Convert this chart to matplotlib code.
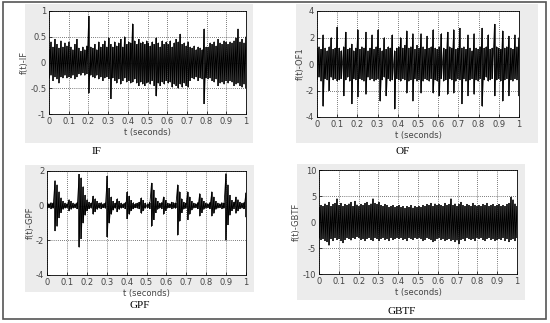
import numpy as np
import matplotlib
matplotlib.use("Agg")
import matplotlib.pyplot as plt
from matplotlib.patches import Rectangle

# envelope of each signal: max / min value in each 0.01 s column
ifUpper = [0.25, 0.40, 0.30, 0.45, 0.35, 0.28, 0.42, 0.30, 0.38, 0.32,
           0.40, 0.30, 0.25, 0.35, 0.45, 0.28, 0.22, 0.30, 0.25, 0.32,
           0.90, 0.30, 0.28, 0.35, 0.25, 0.40, 0.30, 0.35, 0.42, 0.30,
           0.48, 0.35, 0.30, 0.40, 0.32, 0.38, 0.45, 0.30, 0.50, 0.35,
           0.40, 0.38, 0.75, 0.42, 0.35, 0.45, 0.38, 0.40, 0.35, 0.42,
           0.38, 0.32, 0.40, 0.35, 0.48, 0.38, 0.30, 0.42, 0.35, 0.40,
           0.35, 0.42, 0.30, 0.38, 0.45, 0.40, 0.55, 0.35, 0.38, 0.32,
           0.40, 0.30, 0.28, 0.32, 0.25, 0.30, 0.28, 0.25, 0.65, 0.30,
           0.30, 0.38, 0.35, 0.40, 0.32, 0.45, 0.38, 0.35, 0.42, 0.40,
           0.35, 0.40, 0.38, 0.42, 0.48, 0.65, 0.40, 0.45, 0.38, 0.50]
ifLower = [-0.30, -0.25, -0.35, -0.28, -0.32, -0.40, -0.28, -0.30, -0.25, -0.30,
           -0.28, -0.30, -0.25, -0.32, -0.28, -0.22, -0.25, -0.20, -0.25, -0.22,
           -0.60, -0.25, -0.28, -0.30, -0.25, -0.32, -0.28, -0.35, -0.30, -0.28,
           -0.32, -0.70, -0.30, -0.35, -0.40, -0.32, -0.42, -0.35, -0.30, -0.38,
           -0.35, -0.40, -0.38, -0.32, -0.40, -0.45, -0.38, -0.42, -0.45, -0.40,
           -0.38, -0.42, -0.35, -0.45, -0.65, -0.40, -0.45, -0.38, -0.42, -0.35,
           -0.40, -0.38, -0.48, -0.42, -0.45, -0.50, -0.42, -0.48, -0.40, -0.45,
           -0.48, -0.35, -0.30, -0.32, -0.28, -0.35, -0.30, -0.32, -0.80, -0.30,
           -0.32, -0.30, -0.35, -0.38, -0.32, -0.45, -0.40, -0.38, -0.42, -0.35,
           -0.40, -0.35, -0.38, -0.45, -0.42, -0.40, -0.45, -0.48, -0.42, -0.50]

ofUpper = [1.2, 1.3, 1.1, 2.2, 1.2, 1.0, 1.3, 2.0, 1.1, 1.2,
           2.8, 1.2, 1.0, 1.3, 2.4, 1.1, 1.2, 1.5, 1.0, 1.2,
           2.6, 1.1, 1.3, 1.2, 2.4, 1.0, 1.2, 2.2, 1.1, 1.3,
           2.6, 1.2, 1.0, 2.0, 1.1, 1.3, 1.2, 2.2, 1.0, 1.2,
           1.3, 2.0, 1.2, 1.4, 2.5, 1.2, 1.3, 2.3, 1.1, 1.4,
           1.2, 2.3, 1.3, 1.1, 2.1, 1.2, 1.3, 2.6, 1.2, 1.1,
           1.3, 2.3, 1.2, 1.1, 2.4, 1.3, 1.2, 2.6, 1.1, 1.2,
           2.7, 1.2, 1.3, 1.1, 2.2, 1.2, 1.0, 2.3, 1.2, 1.1,
           1.3, 2.7, 1.2, 1.3, 2.2, 1.1, 1.2, 3.0, 1.3, 1.2,
           1.1, 2.5, 1.2, 1.3, 2.1, 1.2, 1.1, 2.2, 1.3, 2.0]
ofLower = [-1.2, -1.0, -1.3, -3.2, -1.1, -1.2, -2.0, -1.0, -1.2, -1.1,
           -1.3, -1.2, -1.1, -2.4, -1.2, -1.0, -1.3, -3.0, -1.1, -1.2,
           -2.5, -1.1, -1.2, -1.3, -2.3, -1.0, -1.2, -1.1, -1.3, -1.2,
           -1.1, -2.8, -1.2, -1.0, -2.4, -1.1, -1.3, -1.2, -3.4, -1.1,
           -1.2, -1.3, -1.1, -1.2, -2.2, -1.3, -1.2, -2.8, -1.1, -1.3,
           -1.2, -2.2, -1.3, -1.1, -1.2, -1.3, -1.1, -2.2, -1.2, -1.3,
           -2.4, -1.1, -1.3, -1.2, -2.3, -1.1, -1.2, -2.2, -1.3, -1.1,
           -1.2, -3.0, -1.1, -1.3, -2.4, -1.2, -1.1, -2.3, -1.2, -1.3,
           -1.1, -3.2, -1.2, -1.0, -1.3, -1.2, -1.1, -2.4, -1.2, -1.1,
           -1.3, -2.8, -1.2, -1.1, -2.4, -1.2, -1.3, -1.1, -1.2, -2.4]

gpfUpper = [0.15, 0.12, 0.18, 0.15, 1.45, 1.20, 0.80, 0.45, 0.25, 0.15,
            0.12, 0.35, 0.25, 0.15, 0.12, 0.18, 1.80, 1.60, 1.10, 0.60,
            0.35, 0.20, 0.15, 0.55, 0.40, 0.25, 0.15, 0.18, 0.12, 0.15,
            1.70, 1.00, 0.50, 0.25, 0.15, 0.40, 0.25, 0.15, 0.12, 0.18,
            0.80, 0.55, 0.30, 0.18, 0.12, 0.15, 0.20, 0.45, 0.30, 0.15,
            0.12, 0.18, 1.30, 0.90, 0.45, 0.25, 0.15, 0.18, 0.50, 0.30,
            0.15, 0.12, 0.20, 0.18, 0.15, 1.20, 0.80, 0.40, 0.20, 0.15,
            0.80, 0.50, 0.25, 0.15, 0.12, 0.18, 0.70, 0.45, 0.25, 0.15,
            0.12, 0.18, 0.80, 0.50, 0.25, 0.15, 0.12, 0.18, 0.15, 1.85,
            1.20, 0.60, 0.30, 0.20, 0.50, 0.35, 0.20, 0.15, 0.18, 0.75]
gpfLower = [-0.15, -0.12, -0.18, -0.15, -1.45, -1.20, -0.70, -0.40, -0.22, -0.15,
            -0.12, -0.30, -0.22, -0.15, -0.12, -0.18, -2.40, -1.90, -1.00, -0.55,
            -0.30, -0.18, -0.15, -0.50, -0.35, -0.22, -0.15, -0.18, -0.12, -0.15,
            -1.80, -1.00, -0.50, -0.25, -0.15, -0.35, -0.22, -0.15, -0.12, -0.18,
            -0.75, -0.50, -0.28, -0.18, -0.12, -0.15, -0.18, -0.45, -0.28, -0.15,
            -0.12, -0.18, -1.20, -0.80, -0.40, -0.22, -0.15, -0.18, -0.50, -0.28,
            -0.15, -0.12, -0.18, -0.15, -0.15, -1.70, -0.90, -0.40, -0.20, -0.15,
            -0.80, -0.50, -0.25, -0.15, -0.12, -0.18, -0.60, -0.40, -0.22, -0.15,
            -0.12, -0.18, -0.60, -0.45, -0.22, -0.15, -0.12, -0.18, -0.15, -2.00,
            -1.10, -0.55, -0.28, -0.18, -0.45, -0.30, -0.18, -0.15, -0.18, -0.65]

gbtfUpper = [2.8, 3.2, 3.0, 3.5, 3.2, 3.8, 3.0, 3.4, 3.6, 4.5,
             3.2, 3.6, 3.0, 3.4, 3.2, 3.5, 3.8, 3.0, 4.0, 3.3,
             3.0, 3.4, 3.2, 3.6, 3.8, 3.2, 3.5, 4.5, 3.6, 3.4,
             3.8, 3.2, 3.0, 3.4, 3.2, 2.8, 3.0, 3.2, 2.8, 3.0,
             3.2, 2.8, 3.0, 2.6, 3.0, 2.8, 3.2, 2.7, 3.0, 2.8,
             3.0, 2.8, 3.2, 3.0, 3.4, 3.2, 3.6, 3.0, 3.5, 3.2,
             3.4, 3.2, 3.0, 3.6, 3.2, 3.4, 4.5, 3.2, 3.5, 3.0,
             3.4, 3.8, 3.2, 3.0, 3.4, 3.2, 3.0, 3.6, 3.2, 3.0,
             3.2, 3.0, 3.4, 3.2, 3.6, 3.0, 3.2, 3.4, 3.0, 3.2,
             3.4, 3.0, 3.2, 3.0, 3.4, 3.6, 4.8, 4.3, 3.5, 3.0]
gbtfLower = [-3.0, -3.4, -3.2, -3.6, -3.8, -4.5, -3.2, -3.6, -3.0, -3.4,
             -3.2, -3.6, -4.0, -3.4, -3.0, -3.2, -3.5, -3.0, -3.2, -2.8,
             -3.0, -3.4, -3.2, -3.6, -3.2, -3.0, -3.4, -3.6, -3.0, -3.2,
             -3.6, -3.2, -3.0, -3.4, -3.2, -3.6, -3.0, -3.4, -3.2, -3.0,
             -3.2, -3.0, -3.4, -3.2, -3.6, -3.0, -3.2, -3.4, -3.0, -3.2,
             -3.0, -3.2, -3.6, -3.4, -3.0, -3.2, -3.4, -3.8, -3.6, -3.2,
             -3.0, -3.4, -3.2, -3.6, -3.4, -3.2, -3.6, -3.4, -3.8, -3.5,
             -4.2, -3.4, -3.2, -3.6, -3.0, -3.2, -3.4, -3.2, -3.6, -3.0,
             -3.2, -3.0, -3.4, -3.6, -3.2, -3.0, -3.4, -3.2, -3.6, -3.4,
             -3.2, -3.4, -3.0, -3.6, -3.2, -3.8, -3.4, -3.2, -3.6, -3.0]

xTicks = [0, 0.1, 0.2, 0.3, 0.4, 0.5, 0.6, 0.7, 0.8, 0.9, 1]
xTickLabels = ["0", "0.1", "0.2", "0.3", "0.4", "0.5", "0.6", "0.7", "0.8", "0.9", "1"]

W, H = 550, 323
fig = plt.figure(figsize=(W / 100, H / 100), dpi=100)

def px_rect(x0, y0, x1, y1):
    # pixel box (top-left origin) -> figure fraction
    return [x0 / W, 1 - y1 / H, (x1 - x0) / W, (y1 - y0) / H]

# outer frame
fig.patches.append(Rectangle((3 / W, 1 - 319 / H), 543 / W, 317 / H, transform=fig.transFigure,
                             fill=False, edgecolor="#555555", lw=1.2, zorder=-1))

panels = [
    # upper, lower, ylim, yticks, yticklabels, ylabel, axes box, gray box, caption, caption pos
    (ifUpper, ifLower, (-1, 1), [-1, -0.5, 0, 0.5, 1], ["-1", "-0.5", "0", "0.5", "1"],
     "f(t)-IF", (49, 11, 246, 114), (25, 4, 253, 143), "IF", (96, 152)),
    (ofUpper, ofLower, (-4, 4), [-4, -2, 0, 2, 4], ["-4", "-2", "0", "2", "4"],
     "f(t)-OF1", (317, 11, 519, 117), (296, 4, 538, 143), "OF", (403, 152)),
    (gpfUpper, gpfLower, (-4, 2), [-4, -2, 0, 2], ["-4", "-2", "0", "2"],
     "f(t)-GPF", (47, 171, 246, 275), (25, 165, 254, 292), "GPF", (140, 306)),
    (gbtfUpper, gbtfLower, (-10, 10), [-10, -5, 0, 5, 10], ["-10", "-5", "0", "5", "10"],
     "f(t)-GBTF", (319, 170, 517, 274), (297, 164, 525, 300), "GBTF", (402, 312)),
]

tickFont = ["Liberation Sans Narrow", "DejaVu Sans"]

for up, low, ylim, yt, ytl, ylab, box, gbox, cap, cpos in panels:
    fig.patches.append(Rectangle((gbox[0] / W, 1 - gbox[3] / H), (gbox[2] - gbox[0]) / W,
                                 (gbox[3] - gbox[1]) / H, transform=fig.transFigure,
                                 facecolor="#ececec", edgecolor="none", zorder=-1))
    ax = fig.add_axes(px_rect(*box))
    t = np.linspace(0, 1, len(up))
    # min/max column of the signal, plus a trace that swings between them
    ax.vlines(t, low, up, color="#111111", lw=1.1, zorder=2)
    tz = np.repeat(t, 2)
    yz = np.column_stack([up, low]).ravel()
    ax.plot(tz, yz, color="black", lw=0.6, zorder=3)
    ax.set_xlim(0, 1)
    ax.set_ylim(*ylim)
    ax.set_xticks(xTicks)
    ax.set_xticklabels(xTickLabels)
    ax.set_yticks(yt)
    ax.set_yticklabels(ytl)
    ax.grid(True, color="black", linestyle=(0, (1, 2)), lw=0.5)
    ax.set_axisbelow(True)
    ax.tick_params(direction="in", length=2, width=0.5, labelsize=6, pad=2,
                   labelcolor="#444444")
    for lbl in ax.get_xticklabels() + ax.get_yticklabels():
        lbl.set_family(tickFont)
    ax.set_xlabel("t (seconds)", fontsize=6, family=tickFont, color="#444444", labelpad=1.5)
    ax.set_ylabel(ylab, fontsize=6, family=tickFont, color="#444444", labelpad=1)
    for s in ax.spines.values():
        s.set_linewidth(0.6)
    fig.text(cpos[0] / W, 1 - cpos[1] / H, cap, ha="center", va="center",
             fontsize=8, family="Liberation Serif")

fig.savefig("out.png", dpi=100)
